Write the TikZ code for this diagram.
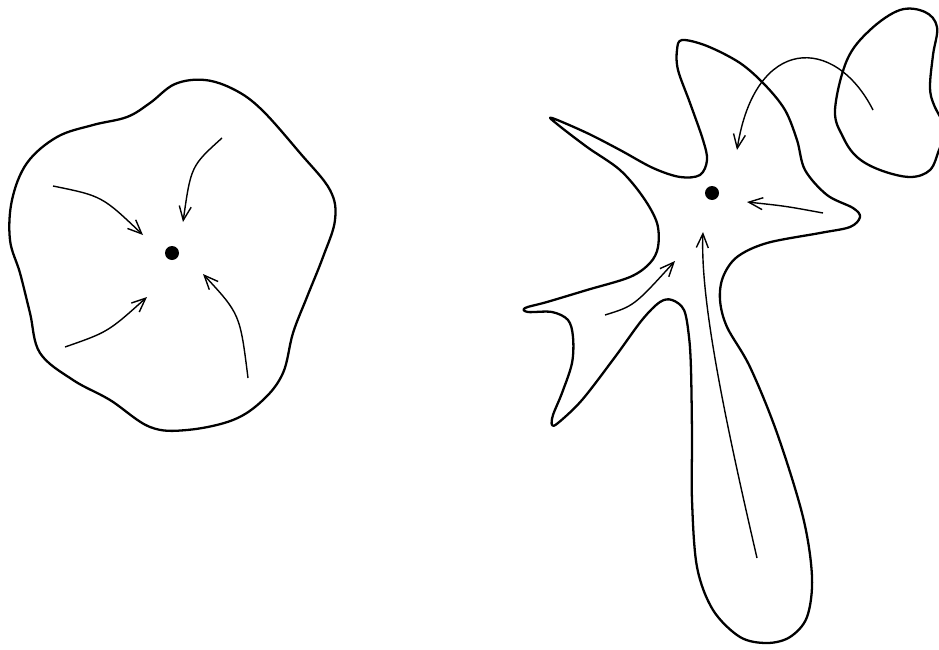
\documentclass[tikz,border=0pt]{standalone}
\usepackage{tikz}
\usetikzlibrary{arrows.meta}

\begin{document}
\begin{tikzpicture}[x=0.02cm, y=-0.02cm,
    outline/.style={line width=1.3pt, line join=round},
    flow/.style={line width=0.8pt, -{Straight Barb[length=2.8mm, width=2.4mm]}},
    sink/.style={circle, fill=black, inner sep=0pt, minimum size=0.28cm}]
  \useasboundingbox (0,0) rectangle (939,649);
  \clip (0,0) rectangle (939,649);

  % Round basin
  \draw[outline] plot[smooth cycle, tension=0.6] coordinates {
    (175,84) (205,80) (235,90) (262,110) (300,153) (330,190) (335,220)
    (323,257) (307,297) (293,333) (283,373) (263,400) (233,420) (187,430)
    (150,427) (110,400) (73,380) (40,353) (30,313) (20,273) (10,240)
    (12,200) (27,163) (57,137) (93,125) (127,117) (150,103)};

  \node[sink] (p) at (172,253) {};

  % Flow lines (left)
  \coordinate (a1) at (53,186);
  \coordinate (a2) at (222,138);
  \coordinate (a3) at (65,347);
  \coordinate (a4) at (248,378);
  \draw[flow] (a1) .. controls (102,196) .. (143,235);
  \draw[flow] (a2) .. controls (191,166) .. (183,222);
  \draw[flow] (a3) .. controls (108,332) .. (147,297);
  \draw[flow] (a4) .. controls (240,314) .. (203,274);

  % Star shaped basin
  \draw[outline] plot[smooth cycle, tension=0.55] coordinates {
    (682,40) (707,46) (740,63) (765,85) (785,110) (797,140) (805,170)
    (827,195) (853,208) (860,217) (850,227) (820,233) (767,243) (737,257)
    (723,277) (720,300) (727,327) (750,367) (777,433) (803,517) (812,577)
    (807,617) (790,637) (767,643) (740,637) (713,610) (697,567) (692,500)
    (692,437) (691,370) (689,337) (684,310) (672,300) (660,302) (642,320)
    (615,357) (582,400) (558,423) (552,425) (553,415) (562,393) (572,363)
    (573,337) (568,320) (552,312) (528,312) (525,308) (547,302) (587,290)
    (630,277) (650,263) (658,247) (657,223) (643,197) (620,170) (587,147)
    (557,124) (552,118) (587,133) (620,150) (653,168) (680,177) (700,175)
    (707,160) (703,140) (690,103) (678,70) (677,50)};

  % Detached lobe, cut by the frame
  \draw[outline] plot[smooth, tension=0.6] coordinates {
    (945,125) (934,105) (930,87) (933,55) (937,27) (925,12) (900,10)
    (870,30) (847,60) (835,110) (843,137) (857,157) (880,170) (910,177)
    (930,170) (939,150) (945,135)};

  \node[sink] (q) at (712,193) {};

  % Flow lines (right)
  \coordinate (b1) at (873,110);
  \coordinate (b2) at (823,213);
  \coordinate (b3) at (605,315);
  \coordinate (b4) at (757,558);
  \draw[flow] (b1) .. controls (835,35) and (755,35) .. (737,150);
  \draw[flow] (b2) .. controls (785,206) .. (747,202);
  \draw[flow] (b3) .. controls (634,306) .. (675,261);
  \draw[flow] (b4) .. controls (725,420) and (700,300) .. (703,232);
\end{tikzpicture}
\end{document}
